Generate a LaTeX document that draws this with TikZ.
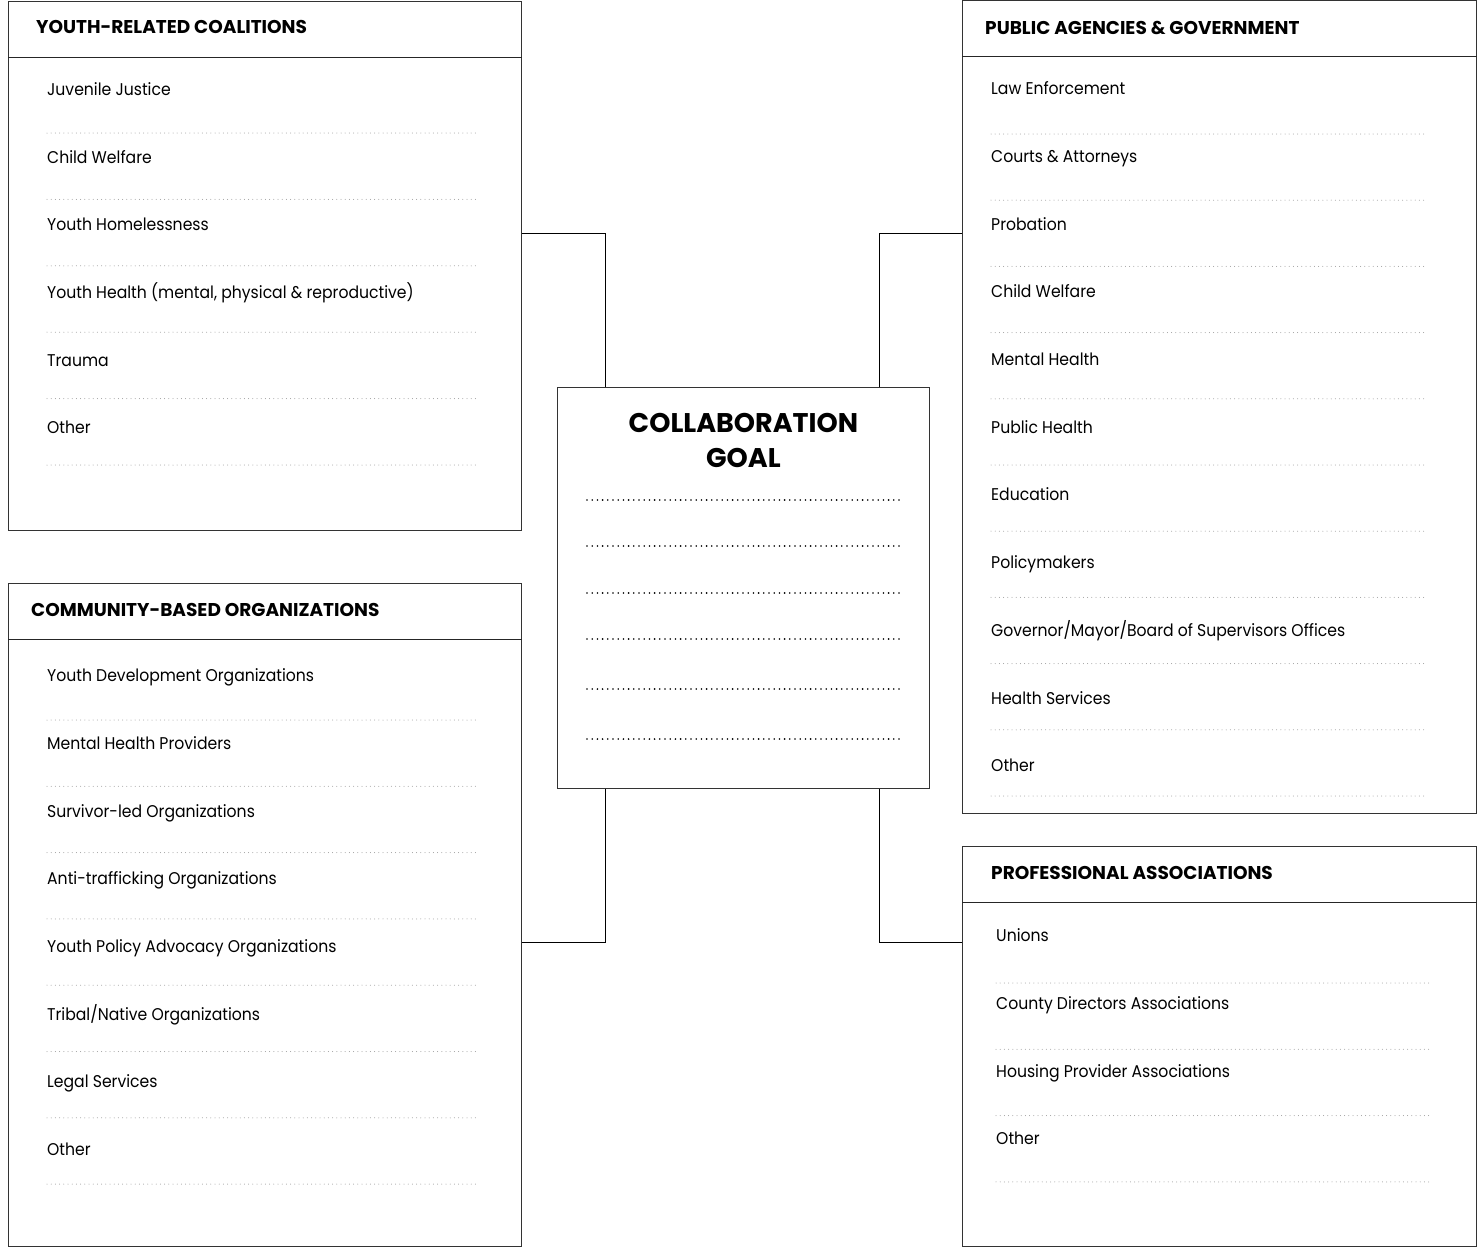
\documentclass[tikz,border=0pt]{standalone}
\usepackage{fontspec}
\setmainfont{Poppins}
\newfontfamily\entryfont{Poppins}[FakeStretch=0.92]
\usetikzlibrary{positioning}
\tikzset{
        % Frames of the groups
        panel/.style={rectangle, draw=black!80, line width=0.9pt, anchor=north west, inner sep=0pt},
        % Rule under a group title
        panel_rule/.style={draw=black!85, line width=0.9pt},
        % Group titles
        panel_title/.style={anchor=mid west, inner sep=0pt, font=\fontsize{18.5}{20}\selectfont\bfseries},
        % List entries
        entry/.style={anchor=mid west, inner sep=0pt, font=\entryfont\fontsize{17}{20}\selectfont},
        % Write-in lines
        fill_line/.style={draw=black!40, line width=1pt, line cap=round, dash pattern=on 0pt off 4.2pt},
        goal_line/.style={draw=black, line width=1.8pt, line cap=round, dash pattern=on 0pt off 5.2pt},
        % Connectors to the goal
        link/.style={draw=black, line width=0.9pt}
}

\begin{document}
\begin{tikzpicture}[x=1pt, y=-1pt]
    \useasboundingbox (0,0) rectangle (1480,1247);

    % Center box
    \node[panel, minimum width=372pt, minimum height=401pt] (goal) at (557,387) {};
    \node[align=center, inner sep=0pt, font=\fontsize{27}{35}\selectfont\bfseries]
        (goal-title) at ([yshift=-53pt]goal.north) {COLLABORATION\\GOAL};
    \foreach \dy [count=\i] in {113,159,206,252,302,352}
        \draw[goal_line] ([xshift=30pt, yshift=-\dy pt]goal.north west) coordinate (goal-\i) -- ++(314,0);

    % Youth-related coalitions
    \node[panel, minimum width=513pt, minimum height=529pt] (youth) at (8,1) {};
    \draw[panel_rule] ([yshift=-56pt]youth.north west) -- ([yshift=-56pt]youth.north east);
    \node[panel_title] (youth-title) at ([xshift=28pt, yshift=-30pt]youth.north west) {YOUTH-RELATED COALITIONS};
    \foreach \txt [count=\i] in {Juvenile Justice, Child Welfare, Youth Homelessness,
            {Youth Health (mental, physical \& reproductive)}, Trauma, Other} {
        \node[entry] (youth-\i) at ([xshift=39pt, yshift={-92pt-67.6pt*(\i-1)}]youth.north west) {\txt};
        \draw[fill_line] ([xshift=39pt, yshift={-132pt-66.4pt*(\i-1)}]youth.north west) -- ++(432,0);
    }

    % Community-based organizations
    \node[panel, minimum width=513pt, minimum height=663pt] (cbo) at (8,583) {};
    \draw[panel_rule] ([yshift=-56pt]cbo.north west) -- ([yshift=-56pt]cbo.north east);
    \node[panel_title] (cbo-title) at ([xshift=23pt, yshift=-31pt]cbo.north west) {COMMUNITY-BASED ORGANIZATIONS};
    \foreach \txt [count=\i] in {Youth Development Organizations, Mental Health Providers,
            Survivor-led Organizations, Anti-trafficking Organizations,
            Youth Policy Advocacy Organizations, Tribal/Native Organizations, Legal Services, Other} {
        \node[entry] (cbo-\i) at ([xshift=39pt, yshift={-96pt-67.7pt*(\i-1)}]cbo.north west) {\txt};
        \draw[fill_line] ([xshift=39pt, yshift={-137pt-66.3pt*(\i-1)}]cbo.north west) -- ++(432,0);
    }

    % Public agencies & government
    \node[panel, minimum width=514pt, minimum height=813pt] (pub) at (962,0) {};
    \draw[panel_rule] ([yshift=-56pt]pub.north west) -- ([yshift=-56pt]pub.north east);
    \node[panel_title] (pub-title) at ([xshift=23pt, yshift=-32pt]pub.north west) {PUBLIC AGENCIES \& GOVERNMENT};
    \foreach \txt [count=\i] in {Law Enforcement, Courts \& Attorneys, Probation, Child Welfare,
            Mental Health, Public Health, Education, Policymakers,
            Governor/Mayor/Board of Supervisors Offices, Health Services, Other} {
        \node[entry] (pub-\i) at ([xshift=29pt, yshift={-92pt-67.7pt*(\i-1)}]pub.north west) {\txt};
        \draw[fill_line] ([xshift=29pt, yshift={-134pt-66.2pt*(\i-1)}]pub.north west) -- ++(434,0);
    }

    % Professional associations
    \node[panel, minimum width=514pt, minimum height=400pt] (prof) at (962,846) {};
    \draw[panel_rule] ([yshift=-56pt]prof.north west) -- ([yshift=-56pt]prof.north east);
    \node[panel_title] (prof-title) at ([xshift=29pt, yshift=-31pt]prof.north west) {PROFESSIONAL ASSOCIATIONS};
    \foreach \txt [count=\i] in {Unions, County Directors Associations, Housing Provider Associations, Other} {
        \node[entry] (prof-\i) at ([xshift=34pt, yshift={-93pt-67.7pt*(\i-1)}]prof.north west) {\txt};
        \draw[fill_line] ([xshift=34pt, yshift={-137pt-66.3pt*(\i-1)}]prof.north west) -- ++(434,0);
    }

    % Connectors
    \draw[link] ([xshift=48pt]goal.north west) |- ([yshift=-232pt]youth.north east);
    \draw[link] ([xshift=-50pt]goal.north east) |- ([yshift=-233pt]pub.north west);
    \draw[link] ([xshift=48pt]goal.south west) |- ([yshift=-359pt]cbo.north east);
    \draw[link] ([xshift=-50pt]goal.south east) |- ([yshift=-96pt]prof.north west);
\end{tikzpicture}
\end{document}
